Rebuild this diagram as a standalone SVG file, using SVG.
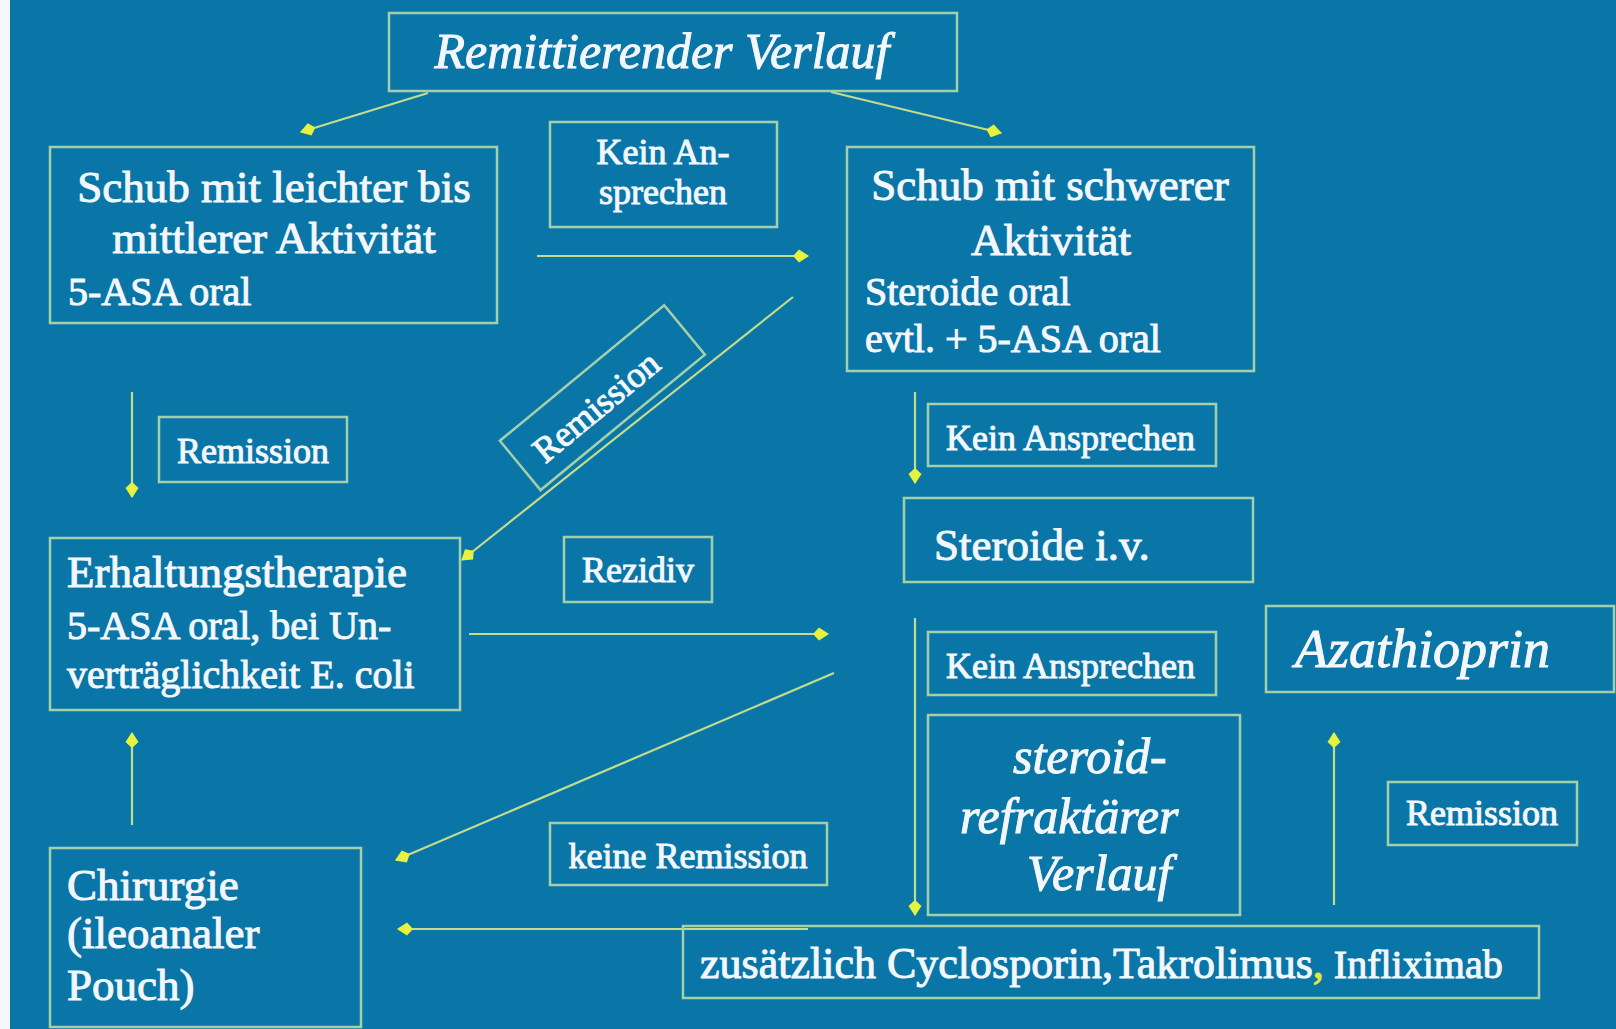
<svg xmlns="http://www.w3.org/2000/svg" width="1616" height="1029" viewBox="0 0 1616 1029">
<style>
.box{fill:none;stroke:#a3d0a8;stroke-width:2.5}
.t{font-family:"Liberation Serif","Times New Roman",serif;fill:#f3f7fb;stroke:#f3f7fb;stroke-width:1}
.t45{font-size:45px}
.t40{font-size:40px}
.t36{font-size:36px}
.it{font-style:italic;font-size:50px}
.c{text-anchor:middle}
.con{stroke:#c4db8c;stroke-width:2.2;fill:none}
</style>
<defs>
<marker id="ah" viewBox="0 0 16 14" refX="15" refY="7" markerWidth="16" markerHeight="14" markerUnits="userSpaceOnUse" orient="auto">
<path d="M0,7 L6,0.5 L16,7 L6,13.5 Z" fill="#e6f23e"/>
</marker>
</defs>
<rect x="0" y="0" width="1616" height="1029" fill="#0a76a8"/>
<rect x="0" y="0" width="10" height="1029" fill="#f4f6f8"/>

<g id="connectors">
<line class="con" x1="428" y1="93" x2="301" y2="132" marker-end="url(#ah)"/>
<line class="con" x1="831" y1="92" x2="1001" y2="133" marker-end="url(#ah)"/>
<line class="con" x1="537" y1="256" x2="808" y2="256" marker-end="url(#ah)"/>
<line class="con" x1="793" y1="297" x2="462" y2="560" marker-end="url(#ah)"/>
<line class="con" x1="132" y1="392" x2="132" y2="497" marker-end="url(#ah)"/>
<line class="con" x1="915" y1="392" x2="915" y2="483" marker-end="url(#ah)"/>
<line class="con" x1="469" y1="634" x2="828" y2="634" marker-end="url(#ah)"/>
<line class="con" x1="132" y1="825" x2="132" y2="733" marker-end="url(#ah)"/>
<line class="con" x1="834" y1="673" x2="396" y2="860" marker-end="url(#ah)"/>
<line class="con" x1="915" y1="618" x2="915" y2="915" marker-end="url(#ah)"/>
<line class="con" x1="808" y1="929" x2="398" y2="929" marker-end="url(#ah)"/>
<line class="con" x1="1334" y1="905" x2="1334" y2="733" marker-end="url(#ah)"/>
</g>

<g id="remittierend">
<rect class="box" x="389" y="13" width="568" height="78"/>
<text class="t it c" x="662" y="68">Remittierender Verlauf</text>
</g>

<g id="schub-leicht">
<rect class="box" x="50" y="147" width="447" height="176"/>
<text class="t t45 c" x="274" y="202">Schub mit leichter bis</text>
<text class="t t45 c" x="274" y="253">mittlerer Aktivität</text>
<text class="t t40" x="68" y="305">5-ASA oral</text>
</g>

<g id="kein-an">
<rect class="box" x="550" y="122" width="227" height="105"/>
<text class="t t36 c" x="663" y="164">Kein An-</text>
<text class="t t36 c" x="663" y="204">sprechen</text>
</g>

<g id="schub-schwer">
<rect class="box" x="847" y="147" width="407" height="224"/>
<text class="t t45 c" x="1050" y="200">Schub mit schwerer</text>
<text class="t t45 c" x="1051" y="255">Aktivität</text>
<text class="t t40" x="865" y="305">Steroide oral</text>
<text class="t t40" x="865" y="352">evtl. + 5-ASA oral</text>
</g>

<g id="remission-diag" transform="translate(602,398) rotate(-39.5)">
<rect class="box" x="-106" y="-32" width="213" height="64"/>
<text class="t t36 c" x="-10" y="15">Remission</text>
</g>

<g id="remission-left">
<rect class="box" x="159" y="417" width="188" height="65"/>
<text class="t t36 c" x="253" y="463">Remission</text>
</g>

<g id="kein-ansprechen-1">
<rect class="box" x="928" y="404" width="288" height="62"/>
<text class="t t36" x="946" y="450">Kein Ansprechen</text>
</g>

<g id="steroide-iv">
<rect class="box" x="904" y="498" width="349" height="84"/>
<text class="t" style="font-size:45px" x="934" y="560">Steroide i.v.</text>
</g>

<g id="erhaltung">
<rect class="box" x="50" y="538" width="410" height="172"/>
<text class="t t45" x="67" y="587">Erhaltungstherapie</text>
<text class="t t40" x="67" y="639">5-ASA oral, bei Un-</text>
<text class="t t40" x="67" y="688">verträglichkeit E. coli</text>
</g>

<g id="rezidiv">
<rect class="box" x="564" y="537" width="148" height="65"/>
<text class="t t36 c" x="638" y="582">Rezidiv</text>
</g>

<g id="kein-ansprechen-2">
<rect class="box" x="928" y="632" width="288" height="63"/>
<text class="t t36" x="946" y="678">Kein Ansprechen</text>
</g>

<g id="azathioprin">
<rect class="box" x="1266" y="606" width="348" height="86"/>
<text class="t" style="font-style:italic;font-size:54px" x="1295" y="667">Azathioprin</text>
</g>

<g id="steroid-refraktaer">
<rect class="box" x="928" y="715" width="312" height="200"/>
<text class="t it" x="1013" y="773">steroid-</text>
<text class="t it" x="960" y="833">refraktärer</text>
<text class="t it" x="1027" y="890">Verlauf</text>
</g>

<g id="remission-right">
<rect class="box" x="1388" y="782" width="189" height="63"/>
<text class="t t36 c" x="1482" y="825">Remission</text>
</g>

<g id="keine-remission">
<rect class="box" x="550" y="823" width="277" height="62"/>
<text class="t t36 c" x="688" y="868">keine Remission</text>
</g>

<g id="chirurgie">
<rect class="box" x="50" y="848" width="311" height="179"/>
<text class="t t45" x="67" y="900">Chirurgie</text>
<text class="t t45" x="67" y="948">(ileoanaler</text>
<text class="t t45" x="67" y="1000">Pouch)</text>
</g>

<g id="zusaetzlich">
<rect class="box" x="683" y="926" width="856" height="72"/>
<text class="t" style="font-size:44px" x="700" y="978">zusätzlich Cyclosporin,Takrolimus<tspan fill="#e6e83a" stroke="#e6e83a">,</tspan><tspan style="font-size:40px"> Infliximab</tspan></text>
</g>
</svg>
